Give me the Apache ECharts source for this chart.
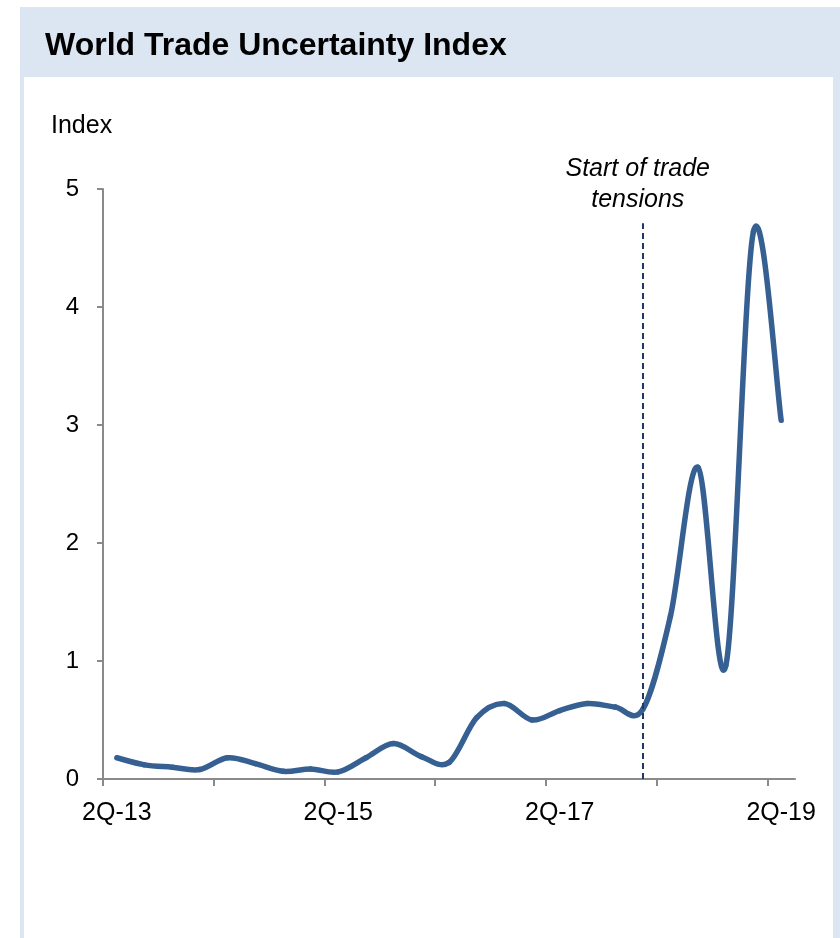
<!DOCTYPE html>
<html>
<head>
<meta charset="utf-8">
<script src="https://cdn.jsdelivr.net/npm/echarts@6/dist/echarts.min.js"></script>
<style>
  html, body { margin: 0; padding: 0; background: #ffffff; }
  #chart { width: 840px; height: 938px; }
</style>
</head>
<body>
<div id="chart"></div>
<script>
// ---- Data ----
const quarters = ['2Q-13','3Q-13','4Q-13','1Q-14','2Q-14','3Q-14','4Q-14','1Q-15',
                  '2Q-15','3Q-15','4Q-15','1Q-16','2Q-16','3Q-16','4Q-16','1Q-17',
                  '2Q-17','3Q-17','4Q-17','1Q-18','2Q-18','3Q-18','4Q-18','1Q-19','2Q-19'];
const indexValues = [0.18, 0.12, 0.10, 0.08, 0.18, 0.13, 0.065, 0.085,
                     0.06, 0.18, 0.30, 0.19, 0.14, 0.52, 0.64, 0.50,
                     0.58, 0.64, 0.61, 0.59, 1.38, 2.64, 0.96, 4.64, 3.04];
const labelledQuarters = ['2Q-13','2Q-15','2Q-17','2Q-19'];
const yTicks = [0, 1, 2, 3, 4, 5];
const eventQuarter = '1Q-18';
const eventLineTop = 4.71;
const eventText = 'Start of trade\ntensions';
const titleText = 'World Trade Uncertainty Index';
const unitText = 'Index';

// ---- Build ----
const FONT = '"Liberation Sans", Arial, Helvetica, sans-serif';
const LINE_COLOR = '#366092';
const seriesData = quarters.map((q, i) => [i + 0.5, indexValues[i]]);
const tickPositions = [];
for (let i = 0; i <= quarters.length - 1; i += 4) tickPositions.push(i);
const labelPositions = labelledQuarters.map(q => quarters.indexOf(q) + 0.5);
const eventX = quarters.indexOf(eventQuarter) + 0.5;

// Spreadsheet-style smoothed line: each item draws the cubic segment to the next
// item, with control points taken from its neighbours (Catmull-Rom, 1/6 tension).
function renderSegment(params, api) {
  const i = params.dataIndex;
  const n = seriesData.length;
  if (i >= n - 1) return null;
  const p0 = api.coord(seriesData[Math.max(i - 1, 0)]);
  const p1 = api.coord(seriesData[i]);
  const p2 = api.coord(seriesData[i + 1]);
  const p3 = api.coord(seriesData[Math.min(i + 2, n - 1)]);
  return {
    type: 'bezierCurve',
    shape: {
      x1: p1[0], y1: p1[1],
      x2: p2[0], y2: p2[1],
      cpx1: p1[0] + (p2[0] - p0[0]) / 6, cpy1: p1[1] + (p2[1] - p0[1]) / 6,
      cpx2: p2[0] - (p3[0] - p1[0]) / 6, cpy2: p2[1] - (p3[1] - p1[1]) / 6
    },
    style: { fill: null, stroke: LINE_COLOR, lineWidth: 5.5, lineCap: 'round', lineJoin: 'round' }
  };
}

const chart = echarts.init(document.getElementById('chart'), null, { renderer: 'canvas' });
chart.setOption({
  backgroundColor: '#ffffff',
  animation: false,
  graphic: [
    { type: 'rect', z: -10, shape: { x: 20, y: 7, width: 830, height: 940 }, style: { fill: '#dce6f2' } },
    { type: 'rect', z: -9, shape: { x: 24, y: 77, width: 809, height: 870 }, style: { fill: '#ffffff' } },
    { type: 'text', left: 51, top: 114, style: { text: unitText, font: '25px ' + FONT, fill: '#000' } }
  ],
  title: {
    text: titleText,
    left: 40,
    top: 25,
    textStyle: { fontFamily: FONT, fontSize: 32, fontWeight: 'bold', color: '#000' }
  },
  grid: { left: 103, top: 189, width: 692, height: 590, outerBoundsMode: 'none', containLabel: false },
  xAxis: {
    type: 'value',
    min: 0,
    max: quarters.length,
    splitLine: { show: false },
    axisLine: { show: true, lineStyle: { color: '#8a8a8a', width: 2 } },
    axisTick: { show: true, length: 7, customValues: tickPositions, lineStyle: { color: '#8a8a8a', width: 2 } },
    axisLabel: {
      customValues: labelPositions,
      formatter: v => quarters[Math.round(v - 0.5)] || '',
      fontFamily: FONT, fontSize: 25, color: '#000', margin: 22
    }
  },
  yAxis: {
    type: 'value',
    min: 0,
    max: 5,
    interval: 1,
    splitLine: { show: false },
    axisLine: { show: true, lineStyle: { color: '#8a8a8a', width: 2 } },
    axisTick: { show: true, length: 6, lineStyle: { color: '#8a8a8a', width: 2 } },
    axisLabel: {
      formatter: v => (yTicks.indexOf(v) >= 0 ? String(v) : ''),
      fontFamily: FONT, fontSize: 24, color: '#000', margin: 24
    }
  },
  series: [{
    type: 'custom',
    name: unitText,
    coordinateSystem: 'cartesian2d',
    data: seriesData,
    encode: { x: 0, y: 1 },
    clip: false,
    renderItem: renderSegment,
    markLine: {
      silent: true,
      symbol: ['none', 'none'],
      lineStyle: { color: '#1f3864', width: 2, type: [6, 4] },
      label: {
        show: true,
        position: 'end',
        formatter: eventText,
        fontFamily: FONT, fontSize: 25, fontStyle: 'italic', color: '#000',
        lineHeight: 31, distance: 8, padding: [0, 10, 0, 0]
      },
      data: [[{ coord: [eventX, 0] }, { coord: [eventX, eventLineTop] }]]
    }
  }]
});
</script>
</body>
</html>
